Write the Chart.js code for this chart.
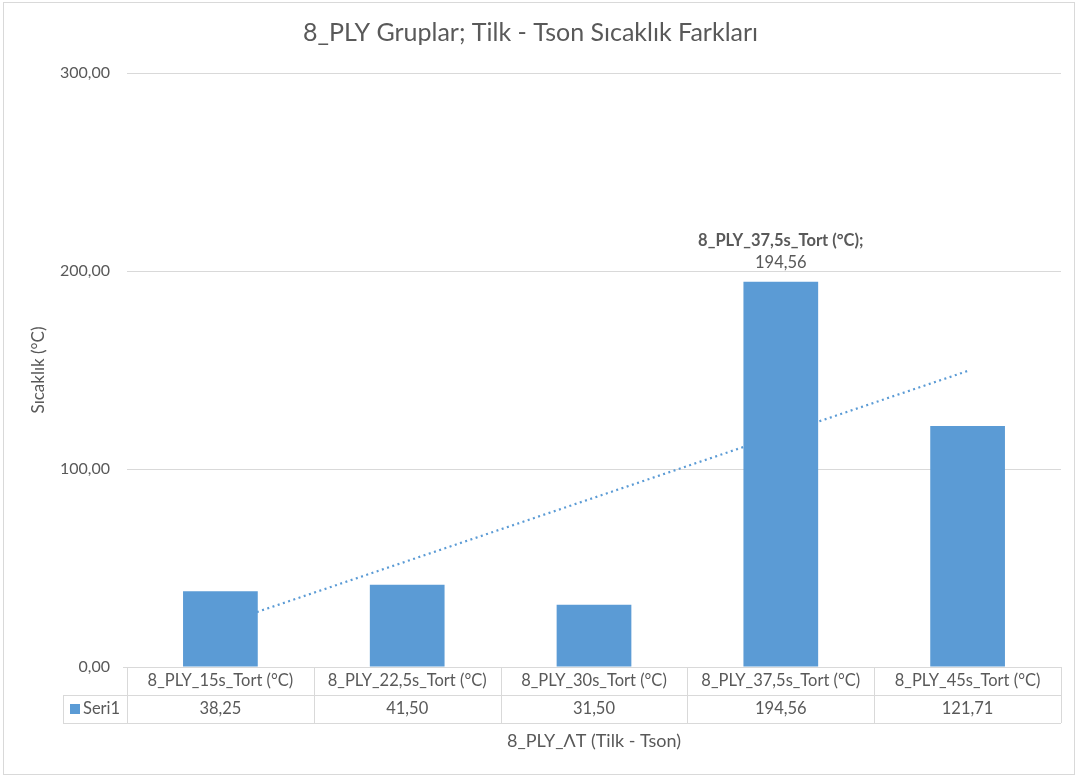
<!DOCTYPE html>
<html>
<head>
<meta charset="utf-8">
<script src="https://cdn.jsdelivr.net/npm/chart.js@4.4.1/dist/chart.umd.min.js"></script>
<style>
  html, body { margin: 0; padding: 0; background: #fff; }
  #wrap { width: 1078px; height: 778px; position: relative; }
</style>
</head>
<body>
<div id="wrap"><canvas id="graph"></canvas></div>
<script>
// Chart data
const categories = ['8_PLY_15s_Tort (°C)', '8_PLY_22,5s_Tort (°C)', '8_PLY_30s_Tort (°C)', '8_PLY_37,5s_Tort (°C)', '8_PLY_45s_Tort (°C)'];
const seri1 = [38.25, 41.50, 31.50, 194.56, 121.71];
// linear trendline, start and end
const trendline = [21.5, null, null, null, 149.5];
const yTicks = [0, 100, 200, 300];
const labeledIndex = 3;

const FONT = 'Lato, "Open Sans", sans-serif';
const TEXT = '#595959';
const GRID = '#d9d9d9';
const BAR = '#5b9bd5';

const fmt = v => v.toFixed(2).replace('.', ',');

// draws the frame, the data table under the axis, the x title and the one data label
const excelExtras = {
  id: 'excelExtras',
  afterDraw(chart) {
    const ctx = chart.ctx;
    const area = chart.chartArea;
    const x = chart.scales.x;
    const step = (area.right - area.left) / categories.length;
    const rowH = 28;
    const top = area.bottom;
    const keyLeft = 63;

    ctx.save();
    // outer frame
    ctx.strokeStyle = GRID;
    ctx.lineWidth = 1;
    ctx.strokeRect(3.5, 2.5, 1071, 772);

    // table lines
    ctx.beginPath();
    ctx.moveTo(area.left - 4, top + 0.5); ctx.lineTo(area.right, top + 0.5);
    ctx.moveTo(keyLeft, top + rowH + 0.5); ctx.lineTo(area.right, top + rowH + 0.5);
    ctx.moveTo(keyLeft, top + rowH * 2 + 0.5); ctx.lineTo(area.right, top + rowH * 2 + 0.5);
    ctx.moveTo(keyLeft + 0.5, top + rowH); ctx.lineTo(keyLeft + 0.5, top + rowH * 2);
    for (let i = 0; i <= categories.length; i++) {
      const lx = Math.round(area.left + step * i) + 0.5;
      ctx.moveTo(lx, top); ctx.lineTo(lx, top + rowH * 2);
    }
    ctx.stroke();

    // table text
    ctx.fillStyle = TEXT;
    ctx.font = '16.5px ' + FONT;
    ctx.textAlign = 'center';
    ctx.textBaseline = 'middle';
    categories.forEach((c, i) => {
      const cx = x.getPixelForValue(i);
      ctx.fillText(c, cx, top + rowH / 2);
      ctx.fillText(fmt(seri1[i]), cx, top + rowH * 1.5);
    });
    // legend key
    ctx.fillStyle = BAR;
    ctx.fillRect(keyLeft + 7, top + rowH * 1.5 - 5, 10, 10);
    ctx.fillStyle = TEXT;
    ctx.textAlign = 'left';
    ctx.fillText('Seri1', keyLeft + 20, top + rowH * 1.5);

    // x axis title
    ctx.textAlign = 'center';
    ctx.font = '18px ' + FONT;
    ctx.fillText('8_PLY_ΛT (Tilk - Tson)', (area.left + area.right) / 2, top + rowH * 2 + 18);

    // data label above the tallest bar
    const bar = chart.getDatasetMeta(1).data[labeledIndex];
    ctx.font = 'bold 16.5px ' + FONT;
    ctx.fillText(categories[labeledIndex] + ';', bar.x, bar.y - 41);
    ctx.font = '16.5px ' + FONT;
    ctx.fillText(fmt(seri1[labeledIndex]), bar.x, bar.y - 19);
    ctx.restore();
  }
};

const config = {
  type: 'bar',
  data: {
    labels: categories,
    datasets: [
      {
        type: 'line',
        label: 'Doğrusal (Seri1)',
        data: trendline,
        spanGaps: true,
        borderColor: BAR,
        borderWidth: 2.2,
        borderDash: [2, 3.5],
        pointRadius: 0,
        fill: false,
        order: 2
      },
      {
        label: 'Seri1',
        data: seri1,
        backgroundColor: BAR,
        categoryPercentage: 1,
        barPercentage: 0.4,
        order: 1
      }
    ]
  },
  options: {
    responsive: true,
    maintainAspectRatio: false,
    animation: false,
    layout: { padding: { left: 0, right: 17, top: 0, bottom: 111 } },
    plugins: {
      legend: { display: false },
      tooltip: { enabled: false },
      title: {
        display: true,
        text: '8_PLY Gruplar; Tilk - Tson Sıcaklık Farkları',
        color: TEXT,
        font: { family: FONT, size: 25, weight: 'normal' },
        padding: { top: 18, bottom: 25 }
      }
    },
    scales: {
      x: { display: false },
      y: {
        min: 0,
        max: 300,
        afterBuildTicks: s => { s.ticks = yTicks.map(v => ({ value: v })); },
        afterFit: s => { s.width = 127; },
        grid: { color: GRID, drawTicks: false },
        border: { display: false },
        ticks: {
          color: TEXT,
          padding: 17,
          font: { family: FONT, size: 16 },
          callback: v => fmt(v)
        },
        title: {
          display: true,
          text: 'Sıcaklık (°C)',
          color: TEXT,
          font: { family: FONT, size: 17 },
          padding: { top: 28 }
        }
      }
    }
  },
  plugins: [excelExtras]
};

const myChart = new Chart(document.getElementById('graph').getContext('2d'), config);
</script>
</body>
</html>
